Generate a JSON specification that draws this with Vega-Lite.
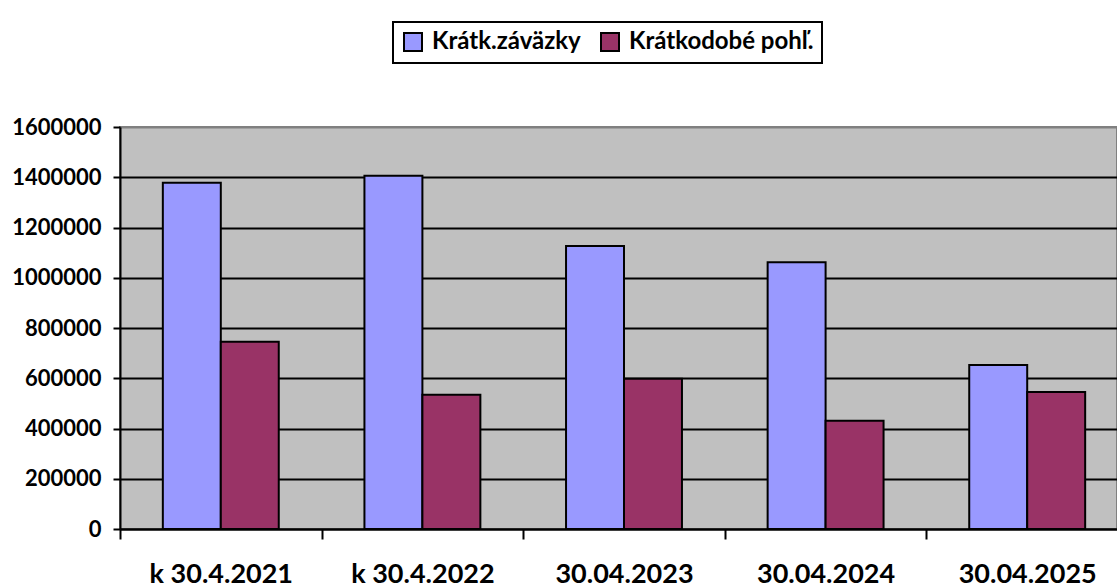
{
  "$schema": "https://vega.github.io/schema/vega-lite/v6.json",
  "autosize": {"type": "none"},
  "padding": {"left": 120, "top": 127, "right": 0, "bottom": 58},
  "width": 997,
  "height": 402,
  "background": "white",
  "config": {
    "view": {"fill": "#C0C0C0", "stroke": "#808080", "strokeWidth": 2},
    "font": "Lato"
  },
  "data": {
    "values": [
      {"date": "k 30.4.2021", "series": "Krátk.záväzky", "value": 1378000},
      {"date": "k 30.4.2021", "series": "Krátkodobé pohľ.", "value": 745000},
      {"date": "k 30.4.2022", "series": "Krátk.záväzky", "value": 1406000},
      {"date": "k 30.4.2022", "series": "Krátkodobé pohľ.", "value": 534000},
      {"date": "30.04.2023", "series": "Krátk.záväzky", "value": 1126000},
      {"date": "30.04.2023", "series": "Krátkodobé pohľ.", "value": 598000},
      {"date": "30.04.2024", "series": "Krátk.záväzky", "value": 1062000},
      {"date": "30.04.2024", "series": "Krátkodobé pohľ.", "value": 431000},
      {"date": "30.04.2025", "series": "Krátk.záväzky", "value": 653000},
      {"date": "30.04.2025", "series": "Krátkodobé pohľ.", "value": 545000}
    ]
  },
  "mark": {"type": "bar", "stroke": "black", "strokeWidth": 2},
  "encoding": {
    "x": {
      "field": "date",
      "type": "nominal",
      "sort": null,
      "title": null,
      "scale": {"paddingInner": 0, "paddingOuter": 0, "rangeMax": 1008},
      "axis": {
        "tickBand": "extent",
        "domainColor": "black",
        "domainWidth": 2,
        "tickColor": "black",
        "tickWidth": 2,
        "tickSize": 10,
        "labelAngle": 0,
        "labelFont": "Lato",
        "labelFontWeight": "bold",
        "labelFontSize": 27,
        "labelColor": "black",
        "labelBaseline": "top",
        "labelPadding": 22,
        "labelLimit": 300,
        "grid": false
      }
    },
    "xOffset": {
      "field": "series",
      "type": "nominal",
      "sort": ["Krátk.záväzky", "Krátkodobé pohľ."],
      "scale": {"paddingInner": 0, "paddingOuter": 0.739}
    },
    "y": {
      "field": "value",
      "type": "quantitative",
      "title": null,
      "scale": {"domain": [0, 1600000], "nice": false},
      "axis": {
        "values": [0, 200000, 400000, 600000, 800000, 1000000, 1200000, 1400000, 1600000],
        "format": "d",
        "domainColor": "black",
        "domainWidth": 2,
        "tickColor": "black",
        "tickWidth": 2,
        "tickSize": 7,
        "labelFont": "Lato",
        "labelFontWeight": "bold",
        "labelFontSize": 22,
        "labelColor": "black",
        "labelPadding": 12,
        "grid": true,
        "gridColor": {"condition": {"test": "datum.value == 1600000", "value": "#808080"}, "value": "black"},
        "gridWidth": 2,
        "gridOpacity": 1
      }
    },
    "color": {
      "field": "series",
      "type": "nominal",
      "sort": ["Krátk.záväzky", "Krátkodobé pohľ."],
      "scale": {"domain": ["Krátk.záväzky", "Krátkodobé pohľ."], "range": ["#9999FF", "#993366"]},
      "legend": {
        "title": null,
        "orient": "none",
        "legendX": 273,
        "legendY": -105,
        "direction": "horizontal",
        "strokeColor": "black",
        "fillColor": "white",
        "padding": 8,
        "symbolType": "square",
        "symbolSize": 324,
        "symbolStrokeColor": "black",
        "symbolStrokeWidth": 2,
        "symbolOpacity": 1,
        "labelFont": "Lato",
        "labelFontWeight": "bold",
        "labelFontSize": 24,
        "labelColor": "black",
        "labelOffset": 7,
        "columnPadding": 16,
        "labelLimit": 400,
        "encode": {"legend": {"update": {"strokeWidth": {"value": 2}}}}
      }
    }
  }
}
